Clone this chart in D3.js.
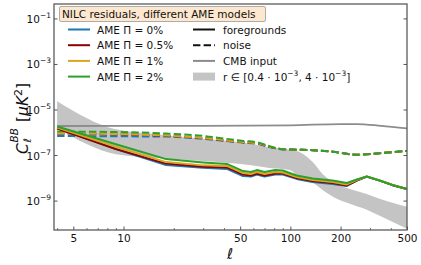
<!DOCTYPE html>
<html lang='en'>
<head>
<meta charset="utf-8">
<style>
body { margin: 0; background: #fff; }
svg { display: block; font-family: "DejaVu Sans", sans-serif; }
.spine { fill: none; stroke: #555; stroke-width: 1.25px; }
text { fill: #111; }
</style>
</head>
<body>
<svg width="421" height="265"></svg>
<script src="https://cdn.jsdelivr.net/npm/d3@7"></script>
<script>
// foreground residuals (solid), shared multipole grid
var ells = [4, 9, 18, 30, 42, 52, 58, 63, 70, 81, 90, 109, 136, 179, 218, 250, 287, 343, 410, 500];
var fgAME0  = [1.61e-6, 1.95e-7, 3.82e-8, 2.88e-8, 2.55e-8, 1.26e-8, 1.20e-8, 1.46e-8, 1.20e-8, 1.46e-8, 1.47e-8, 9.4e-9, 6.9e-9, 5.6e-9, 4.6e-9, 8.0e-9, 1.19e-8, 7.9e-9, 5.0e-9, 3.4e-9];
var fgAME05 = [1.53e-6, 1.91e-7, 4.43e-8, 3.18e-8, 2.96e-8, 1.46e-8, 1.32e-8, 1.62e-8, 1.32e-8, 1.62e-8, 1.62e-8, 1.03e-8, 7.6e-9, 6.2e-9, 4.85e-9, 8.0e-9, 1.19e-8, 7.9e-9, 5.0e-9, 3.4e-9];
var fgAME1  = [1.69e-6, 2.45e-7, 5.16e-8, 3.70e-8, 3.44e-8, 1.70e-8, 1.54e-8, 1.88e-8, 1.54e-8, 1.88e-8, 1.79e-8, 1.14e-8, 8.4e-9, 6.9e-9, 5.4e-9, 8.4e-9, 1.20e-8, 8.0e-9, 5.1e-9, 3.4e-9];
var fgAME2  = [1.87e-6, 3.15e-7, 6.97e-8, 5.00e-8, 4.21e-8, 2.08e-8, 1.88e-8, 2.30e-8, 1.88e-8, 2.30e-8, 2.19e-8, 1.33e-8, 9.8e-9, 8.0e-9, 6.23e-9, 8.87e-9, 1.20e-8, 8.0e-9, 5.09e-9, 3.41e-9];

// noise residuals (dashed)
var noiseElls = [4, 9, 18, 30, 52, 63, 75, 90, 109, 136, 179, 250, 343, 500];
var nsAME0  = [7.2e-7, 7.0e-7, 6.8e-7, 5.4e-7, 3.7e-7, 3.3e-7, 2.35e-7, 1.88e-7, 1.81e-7, 1.72e-7, 1.48e-7, 1.09e-7, 1.27e-7, 1.60e-7];
var nsAME05 = [9.0e-7, 8.6e-7, 7.4e-7, 5.8e-7, 3.8e-7, 3.45e-7, 2.4e-7, 1.9e-7, 1.81e-7, 1.72e-7, 1.48e-7, 1.09e-7, 1.27e-7, 1.60e-7];
var nsAME1  = [9.2e-7, 8.8e-7, 7.5e-7, 5.9e-7, 3.9e-7, 3.5e-7, 2.45e-7, 1.9e-7, 1.81e-7, 1.72e-7, 1.48e-7, 1.09e-7, 1.27e-7, 1.60e-7];
var nsAME2  = [1.13e-6, 1.08e-6, 9.2e-7, 7.25e-7, 4.38e-7, 3.85e-7, 2.57e-7, 1.90e-7, 1.81e-7, 1.72e-7, 1.48e-7, 1.09e-7, 1.27e-7, 1.60e-7];

// CMB input
var cmbElls = [4, 30, 100, 200, 250, 350, 500];
var cmbInput = [1.98e-6, 2.02e-6, 2.13e-6, 2.42e-6, 2.42e-6, 2.02e-6, 1.57e-6];

// r band
var bandElls = [4, 9, 16.5, 30, 57, 75, 99, 114, 136, 156, 190, 227, 287, 343, 500];
var bandHigh = [2.45e-5, 1.42e-6, 8.5e-7, 5.5e-7, 3.4e-7, 2.3e-7, 1.81e-7, 1.41e-7, 5.15e-8, 1.54e-8, 5.64e-9, 3.41e-9, 2.06e-9, 1.25e-9, 5.6e-10];
var bandLow  = [1.57e-6, 1.15e-7, 7.7e-8, 5.69e-8, 3.81e-8, 2.82e-8, 2.30e-8, 1.03e-8, 6.56e-9, 3.08e-9, 1.25e-9, 7.55e-10, 4.13e-10, 2.26e-10, 6.1e-11];

var xTickLabels = [5, 10, 50, 100, 200, 500];
var yTickExps = [-1, -3, -5, -7, -9];
var ameLabels = ["0%", "0.5%", "1%", "2%"];
var ameColors = ["#1f77b4", "#8b0000", "#daa520", "#2ca02c"];

var svg = d3.select("svg");
var mLeft = 54, mRight = 407, mTop = 4, mBottom = 230;

var x = d3.scaleLog().domain([3.83, 500]).range([mLeft, mRight]);
var y = d3.scaleLog().domain([Math.pow(10, -10.27), Math.pow(10, -0.345)]).range([mBottom, mTop]);

svg.append("clipPath").attr("id", "clip")
  .append("rect").attr("x", mLeft).attr("y", mTop).attr("width", mRight - mLeft).attr("height", mBottom - mTop);
var plot = svg.append("g").attr("clip-path", "url(#clip)");

// band
var area = d3.area()
    .x(function(d) { return x(d[0]); })
    .y0(function(d) { return y(d[2]); })
    .y1(function(d) { return y(d[1]); })
    .curve(d3.curveMonotoneX);
plot.append("path")
    .datum(bandElls.map(function(l, i) { return [l, bandHigh[i], bandLow[i]]; }))
    .attr("d", area)
    .attr("fill", "#c4c4c4");

var line = d3.line()
    .x(function(d) { return x(d[0]); })
    .y(function(d) { return y(d[1]); });

function pairs(ls, vs) { return ls.map(function(l, i) { return [l, vs[i]]; }); }

// CMB input
plot.append("path")
    .datum(pairs(cmbElls, cmbInput))
    .attr("d", line.curve(d3.curveMonotoneX))
    .attr("fill", "none").attr("stroke", "#8c8c8c").attr("stroke-width", 1.8);

var fg = [fgAME0, fgAME05, fgAME1, fgAME2];
var ns = [nsAME0, nsAME05, nsAME1, nsAME2];

ns.forEach(function(vs, i) {
  plot.append("path")
      .datum(pairs(noiseElls, vs))
      .attr("d", line.curve(d3.curveMonotoneX))
      .attr("fill", "none").attr("stroke", ameColors[i]).attr("stroke-width", 2)
      .attr("stroke-dasharray", "7.4,3.2");
});
line.curve(d3.curveLinear);
fg.forEach(function(vs, i) {
  plot.append("path")
      .datum(pairs(ells, vs))
      .attr("d", line)
      .attr("fill", "none").attr("stroke", ameColors[i]).attr("stroke-width", 2)
      .attr("stroke-linejoin", "round");
});

// axes
var xTicks = [];
[1, 10, 100].forEach(function(dec) {
  for (var k = 1; k < 10; k++) {
    var v = k * dec;
    if (v >= 4 && v <= 500) xTicks.push(v);
  }
});
var xAxis = d3.axisBottom(x).tickValues(xTicks).tickSizeInner(-2.5).tickSizeOuter(0)
    .tickFormat(function(d) { return xTickLabels.indexOf(d) >= 0 ? d : ""; });
var gx = svg.append("g")
    .attr("transform", "translate(0," + mBottom + ")")
    .call(xAxis);
gx.select(".domain").remove();
gx.selectAll(".tick").each(function(d) {
  var major = xTickLabels.indexOf(d) >= 0;
  d3.select(this).select("line").attr("y2", major ? -3.5 : -2).attr("stroke", "#555").attr("stroke-width", major ? 1 : 0.8);
});
gx.selectAll("text").attr("font-size", "10.5px").attr("font-family", "DejaVu Sans").attr("fill", "#111").attr("dy", "0.71em").attr("y", 5);

var yTickVals = yTickExps.map(function(e) { return Math.pow(10, e); });
[mLeft, mRight].forEach(function(px) {
  var dir = px === mLeft ? 1 : -1;
  svg.append("g").selectAll("line").data(yTickVals).enter().append("line")
      .attr("x1", px).attr("x2", px + dir * 3.5)
      .attr("y1", function(d) { return y(d); }).attr("y2", function(d) { return y(d); })
      .attr("stroke", "#555").attr("stroke-width", 1);
});

var yl = svg.selectAll(".ylab").data(yTickExps).enter().append("text")
    .attr("class", "ylab")
    .attr("x", mLeft - 3)
    .attr("y", function(e) { return y(Math.pow(10, e)) + 4; })
    .attr("text-anchor", "end")
    .attr("font-size", "10.5px");
yl.append("tspan").text("10");
yl.append("tspan").attr("dy", -5).attr("font-size", "7.5px").text(function(e) { return "\u2212" + (-e); });

svg.append("rect").attr("class", "spine")
    .attr("x", mLeft).attr("y", mTop).attr("width", mRight - mLeft).attr("height", mBottom - mTop);

// axis labels
svg.append("text").attr("x", 230).attr("y", 259).attr("text-anchor", "middle")
    .attr("font-size", "15px").attr("font-style", "italic").text("\u2113");

var ylab = svg.append("g").attr("transform", "translate(28,154) rotate(-90)");
ylab.append("text").attr("x", 0).attr("y", 0).attr("font-size", "15.5px").attr("font-style", "italic").text("C");
ylab.append("text").attr("x", 11.5).attr("y", -10).attr("font-size", "10.5px").attr("font-style", "italic").text("BB");
ylab.append("text").attr("x", 11.5).attr("y", 3).attr("font-size", "10.5px").attr("font-style", "italic").text("\u2113");
var unit = ylab.append("text").attr("x", 32).attr("y", 0).attr("font-size", "15.5px");
unit.append("tspan").text("[");
unit.append("tspan").attr("font-style", "italic").text("\u03bcK");
unit.append("tspan").attr("dy", -6).attr("font-size", "11px").text("2");
unit.append("tspan").attr("dy", 6).text("]");

// legend
var lg = svg.append("g").attr("font-size", "10.5px");
lg.append("rect").attr("x", 59.5).attr("y", 6.5).attr("width", 206).attr("height", 15)
    .attr("rx", 1.5).attr("fill", "#fde8cf").attr("stroke", "#999").attr("stroke-width", 0.8);
lg.append("text").attr("x", 62).attr("y", 18).text("NILC residuals, different AME models");

var rowY = function(i) { return 29.5 + i * 15.7; };
ameLabels.forEach(function(lab, i) {
  lg.append("line").attr("x1", 68).attr("x2", 90).attr("y1", rowY(i)).attr("y2", rowY(i))
    .attr("stroke", ameColors[i]).attr("stroke-width", 2);
  lg.append("text").attr("x", 97).attr("y", rowY(i) + 4).text("AME \u03a0 = " + lab);
});

var styles = [
  { label: "foregrounds", color: "#111", dash: null },
  { label: "noise", color: "#111", dash: "7.4,3.2" },
  { label: "CMB input", color: "#8c8c8c", dash: null }
];
styles.forEach(function(s, i) {
  lg.append("line").attr("x1", 193).attr("x2", 215).attr("y1", rowY(i)).attr("y2", rowY(i))
    .attr("stroke", s.color).attr("stroke-width", 2).attr("stroke-dasharray", s.dash);
  lg.append("text").attr("x", 223).attr("y", rowY(i) + 4).text(s.label);
});
lg.append("rect").attr("x", 193).attr("y", rowY(3) - 4).attr("width", 22).attr("height", 8).attr("fill", "#c4c4c4");
var rt = lg.append("text").attr("x", 223).attr("y", rowY(3) + 4);
rt.append("tspan").text("r \u2208 [0.4 \u00b7 10");
rt.append("tspan").attr("dy", -4.5).attr("font-size", "7.5px").text("\u22123");
rt.append("tspan").attr("dy", 4.5).text(", 4 \u00b7 10");
rt.append("tspan").attr("dy", -4.5).attr("font-size", "7.5px").text("\u22123");
rt.append("tspan").attr("dy", 4.5).text("]");
</script>
</body>
</html>
